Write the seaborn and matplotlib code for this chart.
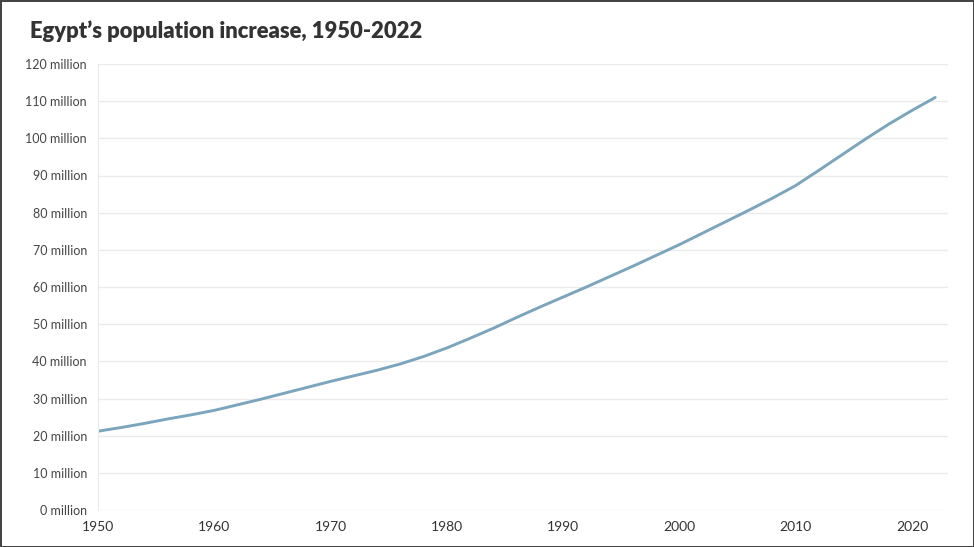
import pandas as pd
import seaborn as sns
import matplotlib.pyplot as plt
from matplotlib.ticker import FuncFormatter, MultipleLocator

# values (millions)
years = [1950, 1952, 1954, 1956, 1958, 1960, 1962, 1964, 1966, 1968,
         1970, 1972, 1974, 1976, 1978, 1980, 1982, 1984, 1986, 1988,
         1990, 1992, 1994, 1996, 1998, 2000, 2002, 2004, 2006, 2008,
         2010, 2012, 2014, 2016, 2018, 2020, 2022]
population = [21.2, 22.2, 23.3, 24.5, 25.6, 26.8, 28.3, 29.8, 31.4, 33.0,
              34.6, 36.1, 37.6, 39.3, 41.3, 43.6, 46.2, 48.9, 51.8, 54.6,
              57.3, 60.0, 62.8, 65.6, 68.5, 71.4, 74.5, 77.6, 80.7, 83.9,
              87.3, 91.4, 95.6, 99.8, 103.8, 107.5, 111.0]

title = "Egypt\u2019s population increase, 1950-2022"

df = pd.DataFrame({"year": years, "population": population})

sns.set_style("white")
plt.rcParams["font.family"] = ["Lato", "DejaVu Sans"]

fig = plt.figure(figsize=(9.74, 5.47), dpi=100)
fig.patch.set_edgecolor("#444444")
fig.patch.set_linewidth(2)
ax = fig.add_axes([98 / 974, 37 / 547, 850 / 974, 446 / 547])

sns.lineplot(data=df, x="year", y="population", color="#7ba5bd", linewidth=2.1, ax=ax)

ax.set_xlim(1950, 2023.1)
ax.set_ylim(0, 120)
ax.xaxis.set_major_locator(MultipleLocator(10))
ax.yaxis.set_major_locator(MultipleLocator(10))
ax.yaxis.set_major_formatter(FuncFormatter(lambda v, pos: f"{int(v)} million"))

ax.grid(axis="y", color="#ebebeb", linewidth=1)
for side in ["top", "right", "bottom"]:
    ax.spines[side].set_visible(False)
ax.spines["left"].set_color("#ebebeb")
ax.tick_params(axis="both", length=5, color="#dddddd", labelcolor="#444444", labelsize=9, pad=3)
ax.tick_params(axis="x", labelsize=10, labelcolor="#333333")
ax.set_xlabel("")
ax.set_ylabel("")

fig.text(30 / 974, 1 - 31 / 547, title, fontsize=15.8, fontweight="heavy", color="#333333", va="center")

fig.savefig("out.png", dpi=100)
